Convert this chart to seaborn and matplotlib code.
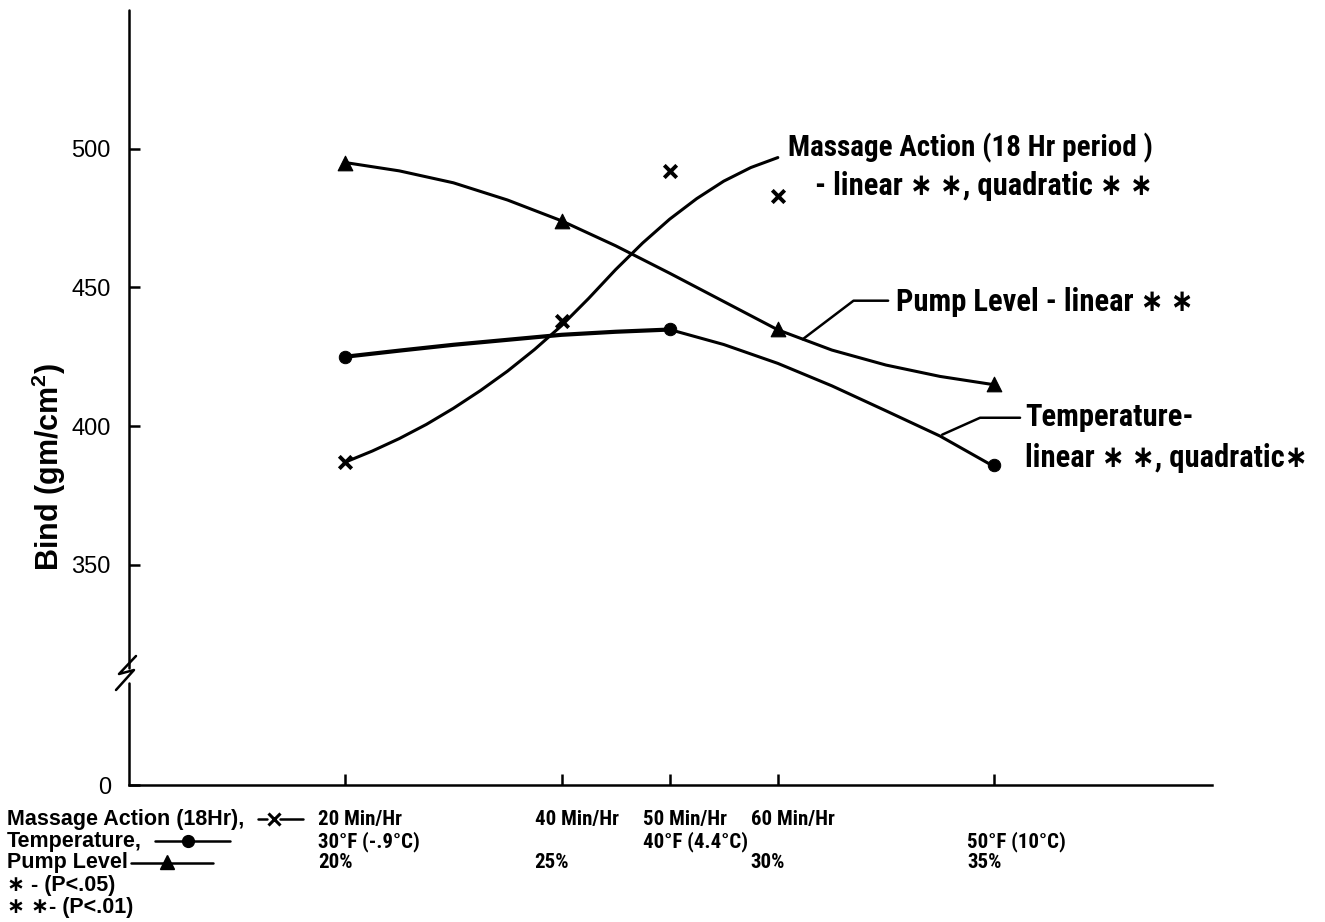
import numpy as np
import matplotlib
matplotlib.use("Agg")
import matplotlib.pyplot as plt
import matplotlib.transforms as mtransforms
from matplotlib.lines import Line2D
import seaborn as sns

# ---- observed treatment means (common x axis in massage minutes/hour) ----
massage_x = [20, 40, 50, 60]
massage_bind = [387, 438, 492, 483]
temp_x = [20, 50, 80]
temp_bind = [425, 435, 386]
pump_x = [20, 40, 60, 80]
pump_bind = [495, 474, 435, 415]

# ---- fitted response curves ----
massage_fit_x = [20, 22.5, 25, 27.5, 30, 32.5, 35, 37.5, 40, 42.5, 45, 47.5,
                 50, 52.5, 55, 57.5, 60]
massage_fit = [387.0, 391.0, 395.5, 400.6, 406.4, 412.8, 419.8, 427.6, 436.2,
               446.0, 456.4, 466.0, 474.6, 482.0, 488.3, 493.2, 496.8]
pump_fit_x = [20, 25, 30, 35, 40, 45, 50, 55, 60, 65, 70, 75, 80]
pump_fit = [495.0, 492.0, 487.7, 481.5, 474.0, 465.0, 455.1, 444.9, 434.7,
            427.4, 422.0, 417.9, 414.9]
temp_fit_x = [20, 25, 30, 35, 40, 45, 50, 55, 60, 65, 70, 75, 80]
temp_fit = [425.0, 427.2, 429.3, 431.1, 432.9, 434.0, 434.8, 429.4, 422.6,
            414.5, 405.5, 396.4, 385.4]

# ---- axis annotation text ----
tick_x = [20, 40, 50, 60, 80]
massage_ticks = ["20 Min/Hr", "40 Min/Hr", "50 Min/Hr", "60 Min/Hr", ""]
temp_ticks = ["30°F (-.9°C)", "", "40°F (4.4°C)", "", "50°F (10°C)"]
pump_ticks = ["20%", "25%", "", "30%", "35%"]
y_ticks = [0, 350, 400, 450, 500]

sns.set_theme(style="white")
plt.rcParams["font.family"] = ["Liberation Sans", "DejaVu Sans"]
plt.rcParams["mathtext.fontset"] = "custom"
plt.rcParams["mathtext.rm"] = "Liberation Sans"
plt.rcParams["mathtext.bf"] = "Liberation Sans:bold"

NARROW = dict(family=["Roboto Condensed", "Noto Sans", "DejaVu Sans"],
              fontstretch="condensed", fontweight=800)
WIDE = ["Liberation Sans", "DejaVu Sans"]
INK = "black"

W, H = 1325, 922
fig = plt.figure(figsize=(W / 100, H / 100), dpi=100)
fig.patch.set_facecolor("white")
ax = fig.add_axes([129 / W, 1 - 785 / H, (1212 - 129) / W, (785 - 10) / H])
ax.set_facecolor("white")

# broken y scale: linear above the break, compressed stub down to zero
BREAK, ZERO_POS = 310.0, 270.6


def fwd(v):
    v = np.asarray(v, dtype=float)
    return np.where(v >= BREAK, v, ZERO_POS + v * (BREAK - ZERO_POS) / BREAK)


def inv(u):
    u = np.asarray(u, dtype=float)
    return np.where(u >= BREAK, u, (u - ZERO_POS) * BREAK / (BREAK - ZERO_POS))


ax.set_yscale("function", functions=(fwd, inv))
ax.set_ylim(0, 550)
ax.set_xlim(0, 100.15)

# fitted curves
sns.lineplot(x=massage_fit_x, y=massage_fit, color=INK, lw=2.2, ax=ax)
sns.lineplot(x=pump_fit_x, y=pump_fit, color=INK, lw=2.2, ax=ax)
temp_left = [i for i, x in enumerate(temp_fit_x) if x <= 50]
temp_right = [i for i, x in enumerate(temp_fit_x) if x >= 50]
sns.lineplot(x=[temp_fit_x[i] for i in temp_left], y=[temp_fit[i] for i in temp_left],
             color=INK, lw=3.0, ax=ax)
sns.lineplot(x=[temp_fit_x[i] for i in temp_right], y=[temp_fit[i] for i in temp_right],
             color=INK, lw=2.2, ax=ax)

# observed means
sns.scatterplot(x=massage_x, y=massage_bind, marker="x", s=80, color=INK,
                linewidth=2.8, ax=ax, zorder=5)
sns.scatterplot(x=temp_x, y=temp_bind, marker="o", s=80, color=INK,
                edgecolor=INK, ax=ax, zorder=5)
sns.scatterplot(x=pump_x, y=pump_bind, marker="^", s=110, color=INK,
                edgecolor=INK, ax=ax, zorder=5)

# spines and ticks
for side in ("top", "right", "left"):
    ax.spines[side].set_visible(False)
ax.spines["bottom"].set_linewidth(1.8)
ax.spines["bottom"].set_color(INK)
ax.set_xticks(tick_x)
ax.set_xticklabels([])
ax.tick_params(axis="x", direction="in", length=8, width=1.8, color=INK, bottom=True)
ax.set_yticks(y_ticks)
ax.set_yticklabels([str(v) for v in y_ticks])
ax.tick_params(axis="y", direction="in", length=8, width=1.8, color=INK, left=True,
               labelsize=17, pad=13, labelcolor=INK)
ax.grid(False)

ax.set_ylabel(r"Bind (gm/cm$^{\mathbf{2}}$)", fontsize=22, fontweight="bold",
              color=INK, family=WIDE)
ax.yaxis.set_label_coords(-0.056, 0.41)
ax.set_xlabel("")


def fx(px):
    return px / W


def fy(py):
    return 1 - py / H


# y axis line with a break symbol
fig.add_artist(Line2D([fx(129), fx(129)], [fy(10), fy(668)], color=INK, lw=1.8))
fig.add_artist(Line2D([fx(129), fx(129)], [fy(683), fy(785)], color=INK, lw=1.8))
fig.add_artist(Line2D([fx(136), fx(119), fx(134), fx(116)],
                      [fy(656), fy(674), fy(670), fy(690)], color=INK, lw=1.8))

# curve labels with leader lines
lab = dict(color=INK, **NARROW)
ax.text(60.9, 500.4, "Massage Action (18 Hr period )", fontsize=21, va="center",
        ha="left", **lab)
ax.text(63.4, 486.6, "- linear ∗ ∗, quadratic ∗ ∗", fontsize=22, va="center",
        ha="left", **lab)

ax.plot([62.3, 67.0, 70.2], [431.3, 445.2, 445.2], color=INK, lw=1.8)
ax.text(70.9, 444.8, "Pump Level - linear ∗ ∗", fontsize=22, va="center",
        ha="left", **lab)

ax.plot([75.2, 78.7, 82.4], [396.9, 403.0, 403.0], color=INK, lw=1.8)
ax.text(82.9, 403.4, "Temperature-", fontsize=22, va="center", ha="left", **lab)
ax.text(82.9, 388.4, "linear ∗ ∗, quadratic∗", fontsize=22, va="center",
        ha="left", **lab)

# x-axis category labels, one row per factor
row_base = [825, 847, 868]
col_tf = mtransforms.offset_copy(
    mtransforms.blended_transform_factory(ax.transData, fig.transFigure),
    fig=fig, x=-27, y=0, units="dots")
for row, labels in enumerate([massage_ticks, temp_ticks, pump_ticks]):
    for x, txt in zip(tick_x, labels):
        if txt:
            ax.text(x, fy(row_base[row]), txt, transform=col_tf, fontsize=15,
                    ha="left", va="baseline", clip_on=False, **lab)

# key in the lower left
key = dict(family=WIDE, fontweight="bold", color=INK, fontsize=15.5, ha="left",
           va="baseline")
fig.text(fx(7), fy(825), "Massage Action (18Hr),", **key)
fig.text(fx(7), fy(847), "Temperature,", **key)
fig.text(fx(7), fy(868), "Pump Level", **key)
fig.text(fx(7), fy(891), "∗ - (P<.05)", **key)
fig.text(fx(7), fy(913), "∗ ∗- (P<.01)", **key)

fig.add_artist(Line2D([fx(258), fx(267)], [fy(819), fy(819)], color=INK, lw=1.8))
fig.add_artist(Line2D([fx(280), fx(303)], [fy(819), fy(819)], color=INK, lw=1.8))
fig.add_artist(Line2D([fx(273.5)], [fy(819)], marker="x", ms=8, mew=2.2, color=INK))
fig.add_artist(Line2D([fx(155), fx(230)], [fy(841), fy(841)], color=INK, lw=1.8))
fig.add_artist(Line2D([fx(188)], [fy(841)], marker="o", ms=8.5, color=INK, mec=INK))
fig.add_artist(Line2D([fx(131), fx(213)], [fy(863), fy(863)], color=INK, lw=1.8))
fig.add_artist(Line2D([fx(167)], [fy(862)], marker="^", ms=10, color=INK, mec=INK))

fig.savefig("out.png", dpi=100, facecolor="white")
